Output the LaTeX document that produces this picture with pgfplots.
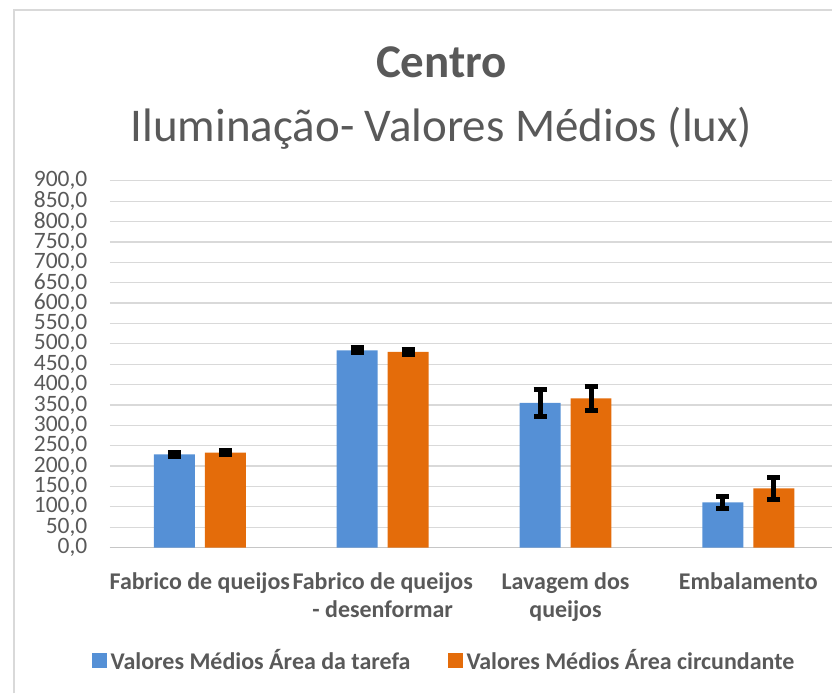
\documentclass[border=0pt]{standalone}
\usepackage{fontspec}
\setmainfont{Carlito}
\usepackage{pgfplots}
\pgfplotsset{compat=1.18}
\definecolor{tarefa}{HTML}{5590D6}
\definecolor{circ}{HTML}{E46C0A}
\definecolor{txtgray}{HTML}{595959}
\definecolor{gridgray}{HTML}{D9D9D9}
\pgfplotsset{
  errstyle/.style={
    error bars/y dir=both, error bars/y explicit,
    error bars/error bar style={black,line width=5pt},
    error bars/error mark options={rotate=90,black,mark size=6.5pt,line width=5pt}},
}
\begin{document}
\begin{tikzpicture}
\begin{axis}[
  scale only axis, width=723pt, height=367pt,
  ybar, bar width=41pt,
  xmin=-0.492, xmax=3.459,
  ymin=0, ymax=900,
  ytick={0,50,...,900},
  xtick={0,1,2,3},
  xticklabels={Fabrico de queijos,Fabrico de queijos\\- desenformar,Lavagem dos\\queijos,Embalamento},
  x tick label style={font=\fontsize{24}{28}\selectfont\bfseries,text=txtgray,align=center,anchor=north,yshift=-22pt},
  y tick label style={font=\fontsize{23.5}{20}\selectfont,text=txtgray,xshift=-19pt},
  yticklabel style={/pgf/number format/.cd,fixed,fixed zerofill,precision=1,use comma,assume math mode=true},
  major tick length=0pt,
  axis line style={draw=none},
  axis x line*=bottom, axis y line*=left,
  ymajorgrids, grid style={gridgray,line width=1.2pt},
  extra y ticks={0}, extra y tick labels={},
  extra y tick style={grid style={gridgray!80!black!70,line width=1.4pt}},
  legend style={at={(0.464,-0.308)},anchor=center,draw=none,fill=none,
    legend columns=2,font=\fontsize{24}{28}\selectfont\bfseries,text=txtgray,
    nodes={inner xsep=4pt},
    /tikz/every even column/.append style={column sep=33pt}},
  legend cell align=left,
  clip=false,
]
\addplot[fill=tarefa,draw=none,bar shift=-25.5pt,errstyle,
  legend image code/.code={\fill[tarefa] (0pt,-7.5pt) rectangle (15pt,7.5pt);}]
  coordinates {(0,229) +- (0,5) (1,484) +- (0,6) (2,355) +- (0,34) (3,111) +- (0,14)};
\addplot[fill=circ,draw=none,bar shift=25.5pt,errstyle,
  legend image code/.code={\fill[circ] (0pt,-7.5pt) rectangle (15pt,7.5pt);}]
  coordinates {(0,233) +- (0,5) (1,480) +- (0,6) (2,366) +- (0,29) (3,145) +- (0,27)};
\legend{Valores Médios Área da tarefa,Valores Médios Área circundante}
% page extent, chart frame and titles
\path (rel axis cs:-0.1521,-0.3978) rectangle (rel axis cs:1,1.4932);
\draw[gridgray,line width=1.2pt] (rel axis cs:-0.1328,-0.3978) -- (rel axis cs:-0.1328,1.466) -- (rel axis cs:1,1.466);
\node[font=\fontsize{47}{50}\selectfont\bfseries,text=txtgray] at (rel axis cs:0.459,1.324) {Centro};
\node[font=\fontsize{47}{50}\selectfont,text=txtgray] at (rel axis cs:0.459,1.144) {Iluminação- Valores Médios (lux)};
\end{axis}
\end{tikzpicture}
\end{document}
